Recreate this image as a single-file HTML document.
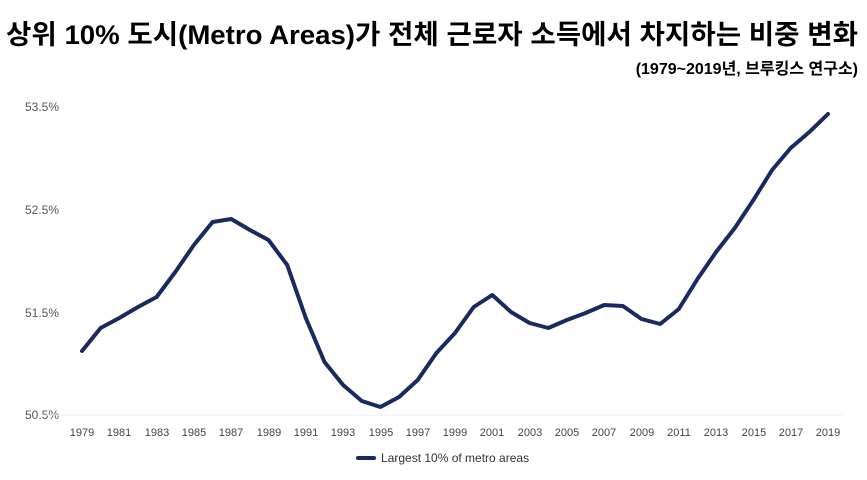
<!DOCTYPE html>
<html><head><meta charset="utf-8"><style>
body{margin:0;background:#fff;width:867px;height:475px;overflow:hidden}
</style></head><body>
<svg width="867" height="475" xmlns="http://www.w3.org/2000/svg" font-family="'Liberation Sans','Noto Sans CJK KR',sans-serif">
<text x="6" y="44" font-size="27" font-weight="bold" fill="#000" textLength="852" lengthAdjust="spacingAndGlyphs">상위 10% 도시(Metro Areas)가 전체 근로자 소득에서 차지하는 비중 변화</text>
<text x="858" y="74" font-size="16" font-weight="bold" fill="#000" text-anchor="end">(1979~2019년, 브루킹스 연구소)</text>
<g font-size="12" fill="#555">
<text x="25" y="111">53.5%</text>
<text x="25" y="214">52.5%</text>
<text x="25" y="317">51.5%</text>
<text x="25" y="419">50.5%</text>
</g>
<line x1="42" y1="415" x2="842" y2="415" stroke="#eee" stroke-width="1"/>
<g font-size="11" fill="#444" text-anchor="middle">
<text x="82" y="436">1979</text><text x="119" y="436">1981</text><text x="157" y="436">1983</text><text x="194" y="436">1985</text><text x="231" y="436">1987</text><text x="269" y="436">1989</text><text x="306" y="436">1991</text><text x="343" y="436">1993</text><text x="381" y="436">1995</text><text x="418" y="436">1997</text><text x="455" y="436">1999</text><text x="492" y="436">2001</text><text x="530" y="436">2003</text><text x="567" y="436">2005</text><text x="604" y="436">2007</text><text x="642" y="436">2009</text><text x="679" y="436">2011</text><text x="716" y="436">2013</text><text x="754" y="436">2015</text><text x="791" y="436">2017</text><text x="828" y="436">2019</text>
</g>
<polyline fill="none" stroke="#1a2a5e" stroke-width="4" stroke-linejoin="round" stroke-linecap="round" points="82,351 100.6,328 119.3,318 138,307 156.6,297 175.3,272 193.9,245 212.6,222 231.2,219 249.9,230 268.5,240 287.2,265 305.8,318 324.5,362 343.1,385 361.8,401 380.4,407 399.1,397 417.7,380 436.4,353 455,333 473.7,307 492.3,295 511,312 529.6,323 548.3,328 566.9,320 585.6,313 604.2,305 622.9,306 641.5,319 660.2,324 678.8,309 697.5,279 716.1,252 734.8,228 753.4,200 772.1,170 790.7,148 809.4,132 828,114"/>
<line x1="358" y1="458" x2="374" y2="458" stroke="#1a2a5e" stroke-width="4" stroke-linecap="round"/>
<text x="381" y="462" font-size="12" fill="#333">Largest 10% of metro areas</text>
</svg>
</body></html>
